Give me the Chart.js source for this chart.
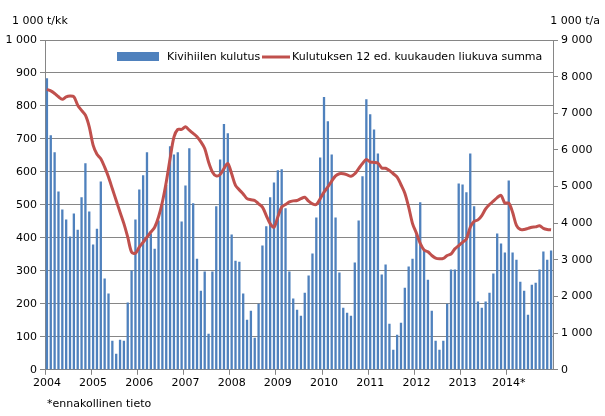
<!DOCTYPE html>
<html>
<head>
<meta charset="utf-8">
<script src="https://cdn.jsdelivr.net/npm/chart.js@4"></script>
<style>
  html, body { margin: 0; padding: 0; background: #fff; }
  #wrap { width: 605px; height: 416px; }
</style>
</head>
<body>
<div id="wrap"><canvas id="chart" width="605" height="416"></canvas></div>
<script>
// ------------------------------
// DATA
// ------------------------------

const years = ["2004", "2005", "2006", "2007", "2008", "2009", "2010", "2011", "2012", "2013", "2014*"];

// monthly consumption, 1 000 t / month
const kulutus = [
    884, 711, 660, 541, 486, 456, 404, 474, 425, 523, 626, 480,
    380, 428, 571, 277, 231, 88, 49, 91, 88, 204, 301, 456,
    547, 590, 660, 413, 367, 453, 500, 560, 678, 653, 660, 450,
    559, 672, 505, 337, 240, 298, 109, 298, 496, 638, 745, 717,
    410, 331, 328, 231, 152, 179, 97, 200, 377, 435, 523, 568,
    605, 608, 490, 298, 216, 182, 164, 234, 286, 353, 462, 644,
    827, 754, 653, 462, 295, 188, 173, 164, 325, 453, 587, 820,
    775, 729, 656, 289, 319, 140, 61, 106, 143, 249, 313, 337,
    410, 508, 362, 273, 179, 88, 61, 88, 200, 304, 304, 565,
    562, 538, 656, 496, 207, 188, 207, 234, 292, 413, 383, 356,
    574, 356, 334, 267, 240, 167, 258, 264, 304, 359, 334, 362
];

// rolling 12-month sum, 1 000 t / year
const summa = [
    7650, 7610, 7540, 7450, 7380, 7450, 7470, 7450, 7220, 7080, 6950, 6630,
    6130, 5880, 5760, 5530, 5260, 4940, 4620, 4300, 3990, 3620, 3210, 3180,
    3350, 3480, 3620, 3760, 3890, 4170, 4580, 5120, 5760, 6350, 6560, 6560,
    6630, 6540, 6450, 6360, 6220, 6040, 5670, 5400, 5290, 5330, 5490, 5630,
    5350, 5030, 4910, 4800, 4670, 4640, 4620, 4530, 4440, 4210, 3990, 3890,
    4170, 4440, 4510, 4580, 4610, 4620, 4670, 4710, 4600, 4530, 4510, 4670,
    4850, 4990, 5150, 5290, 5350, 5350, 5320, 5280, 5350, 5490, 5630, 5740,
    5670, 5660, 5640, 5510, 5500, 5440, 5350, 5260, 5050, 4820, 4440, 3990,
    3730, 3450, 3270, 3220, 3120, 3050, 3030, 3040, 3120, 3160, 3300, 3390,
    3480, 3570, 3890, 4050, 4090, 4210, 4390, 4510, 4600, 4700, 4760, 4550,
    4550, 4300, 3940, 3830, 3830, 3860, 3890, 3900, 3930, 3860, 3830, 3820
];

const labels = kulutus.map((_, i) => (i % 12 === 0 ? years[i / 12] : ""));

// ------------------------------
// CHART
// ------------------------------

const FONT = "'DejaVu Sans', sans-serif";
const fmt = v => v >= 1000 ? Math.floor(v / 1000) + " " + String(v % 1000).padStart(3, "0") : String(v);

const extras = {
    id: "extras",
    afterDraw(chart) {
        const ctx = chart.ctx;
        ctx.save();
        ctx.fillStyle = "#000";
        ctx.font = "11px " + FONT;
        ctx.textBaseline = "middle";
        ctx.textAlign = "left";
        ctx.fillText("1 000 t/kk", 12, 21);
        ctx.fillText("*ennakollinen tieto", 47, 404);
        ctx.textAlign = "right";
        ctx.fillText("1 000 t/a", 600, 21);

        // legend inside plot
        ctx.textAlign = "left";
        ctx.fillStyle = "#4f81bd";
        ctx.fillRect(117, 52, 42, 9);
        ctx.fillStyle = "#000";
        ctx.fillText("Kivihiilen kulutus", 167, 57);
        ctx.strokeStyle = "#c0504d";
        ctx.lineWidth = 3;
        ctx.beginPath();
        ctx.moveTo(262, 57);
        ctx.lineTo(290, 57);
        ctx.stroke();
        ctx.fillText("Kulutuksen 12 ed. kuukauden liukuva summa", 292, 57);
        ctx.restore();
    }
};

new Chart(document.getElementById("chart"), {
    data: {
        labels: labels,
        datasets: [
            {
                type: "line",
                label: "Kulutuksen 12 ed. kuukauden liukuva summa",
                data: summa,
                yAxisID: "y2",
                borderColor: "#c0504d",
                borderWidth: 3,
                pointRadius: 0,
                tension: 0.3,
                fill: false
            },
            {
                type: "bar",
                label: "Kivihiilen kulutus",
                data: kulutus,
                yAxisID: "y",
                backgroundColor: "#4f81bd",
                barPercentage: 0.6,
                categoryPercentage: 1.0
            }
        ]
    },
    options: {
        responsive: false,
        animation: false,
        layout: { padding: { top: 40, bottom: 24, left: 0, right: 7 } },
        plugins: {
            legend: { display: false },
            tooltip: { enabled: false }
        },
        scales: {
            x: {
                grid: {
                    drawOnChartArea: false,
                    tickLength: 5,
                    color: ctx => (ctx.index % 12 === 0 ? "#868686" : "rgba(0,0,0,0)")
                },
                border: { color: "#868686" },
                ticks: {
                    autoSkip: false,
                    maxRotation: 0,
                    color: "#000",
                    font: { family: FONT, size: 11 },
                    padding: 2
                }
            },
            y: {
                position: "left",
                min: 0, max: 1000,
                afterFit: s => { s.width = 45; },
                grid: { color: "#868686", tickLength: 5 },
                border: { color: "#868686" },
                ticks: {
                    stepSize: 100,
                    color: "#000",
                    font: { family: FONT, size: 11 },
                    callback: fmt
                }
            },
            y2: {
                position: "right",
                min: 0, max: 9000,
                afterFit: s => { s.width = 45; },
                grid: { drawOnChartArea: false, tickLength: 5, color: "#868686" },
                border: { color: "#868686" },
                ticks: {
                    stepSize: 1000,
                    color: "#000",
                    font: { family: FONT, size: 11 },
                    callback: fmt
                }
            }
        }
    },
    plugins: [extras]
});
</script>
</body>
</html>
